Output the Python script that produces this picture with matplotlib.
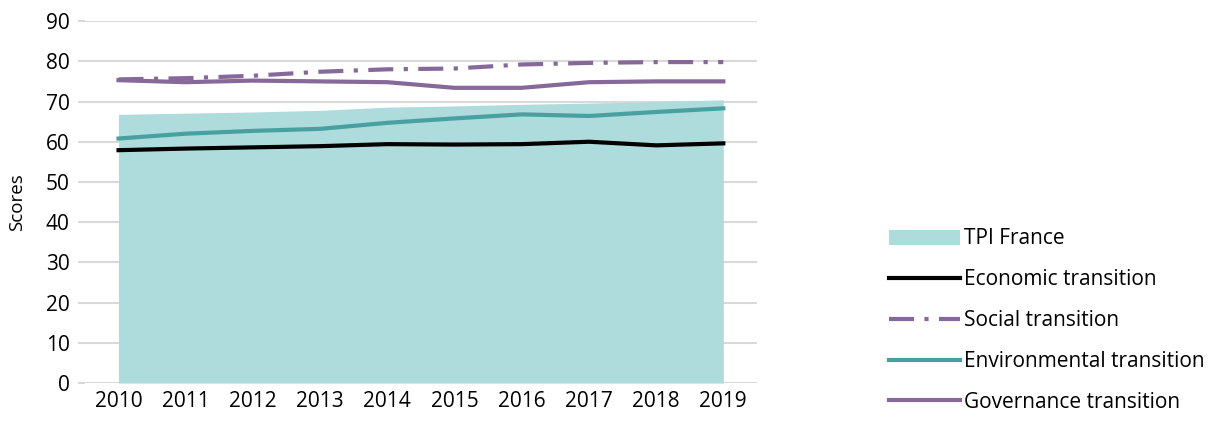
import matplotlib
matplotlib.use('Agg')
import matplotlib.pyplot as plt
from matplotlib.patches import Patch
from matplotlib.lines import Line2D

years = [2010, 2011, 2012, 2013, 2014, 2015, 2016, 2017, 2018, 2019]
tpi_france = [66.8, 67.1, 67.4, 67.8, 68.6, 68.9, 69.3, 69.6, 70.0, 70.4]
economic = [57.9, 58.3, 58.6, 58.9, 59.4, 59.3, 59.4, 60.0, 59.1, 59.6]
social = [75.5, 75.8, 76.4, 77.4, 78.0, 78.2, 79.2, 79.6, 79.8, 79.8]
environmental = [60.8, 62.0, 62.7, 63.2, 64.7, 65.8, 66.8, 66.4, 67.4, 68.3]
governance = [75.3, 74.8, 75.2, 75.0, 74.8, 73.4, 73.4, 74.8, 75.0, 75.0]

plt.rcParams['font.family'] = ['Open Sans', 'DejaVu Sans']

fill_c = '#aedbdb'
purple = '#86689a'
teal = '#48a0a0'

fig = plt.figure(figsize=(12.13, 4.21), dpi=100)
ax = fig.add_axes([0.070, 0.090, 0.554, 0.860])

ax.fill_between(years, 0, tpi_france, color=fill_c, lw=0, zorder=1)
ax.plot(years, economic, color='black', lw=3, zorder=3)
ax.plot(years, environmental, color=teal, lw=3, zorder=3)
ax.plot(years, governance, color=purple, lw=3, zorder=3)
ax.plot(years, social, color=purple, lw=3, dashes=(6, 2.5, 1, 2.5), zorder=4)

ax.set_xlim(2009.5, 2019.5)
ax.set_ylim(0, 90)
ax.set_yticks(range(0, 91, 10))
ax.set_xticks(years)
ax.grid(axis='y', color='#d9d9d9', lw=1.5, zorder=0)
ax.set_axisbelow(True)
for s in ax.spines.values():
    s.set_visible(False)
ax.tick_params(axis='y', length=5, color='#d9d9d9', width=1.5, labelsize=15, pad=6)
ax.tick_params(axis='x', length=0, labelsize=15, pad=6)
ax.set_ylabel('Scores', fontsize=13.5, labelpad=14)

handles = [
    Patch(facecolor=fill_c, edgecolor='none'),
    Line2D([], [], color='black', lw=3),
    Line2D([], [], color=purple, lw=3, dashes=(6, 2.5, 1, 2.5)),
    Line2D([], [], color=teal, lw=3),
    Line2D([], [], color=purple, lw=3),
]
labels = ['TPI France', 'Economic transition', 'Social transition',
          'Environmental transition', 'Governance transition']
fig.legend(handles, labels, loc='lower left', bbox_to_anchor=(0.726, 0.0),
           frameon=False, fontsize=15, handlelength=3.4, handletextpad=0.2,
           labelspacing=0.95, borderaxespad=0)

plt.savefig('out.png', dpi=100)
